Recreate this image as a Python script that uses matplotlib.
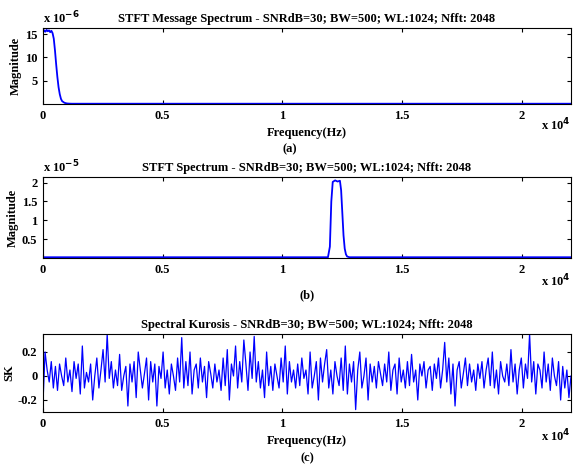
import matplotlib
matplotlib.use("Agg")
import matplotlib.pyplot as plt
import numpy as np

plt.rcParams['font.family'] = ['Liberation Serif', 'DejaVu Serif']
plt.rcParams['font.weight'] = 'bold'

msg_freq = [0, 50, 100, 150, 200, 250, 300, 350, 400, 450, 500, 550, 600, 650, 700, 750, 800, 900, 1000, 1100, 1200, 22050]
msg_mag = [15.3, 15.8, 15.5, 15.9, 15.6, 15.8, 15.4, 15.7, 15.2, 14.0, 11.5, 8.5, 5.8, 3.6, 2.1, 1.1, 0.6, 0.25, 0.12, 0.08, 0.06, 0.06]

sp_freq = [0, 11900, 11980, 12040, 12100, 12200, 12300, 12400, 12450, 12500, 12550, 12600, 12650, 12700, 12800, 22050]
sp_mag = [0.02, 0.02, 0.3, 1.5, 2.02, 2.06, 2.03, 2.05, 1.8, 1.2, 0.6, 0.25, 0.1, 0.04, 0.02, 0.02]

sk_vals = [
 -0.22, 0.2, 0.05, -0.05, 0.12, -0.1, 0.08, -0.12, 0.1, 0.0, -0.08, 0.15, -0.05, 0.05, -0.13, 0.12,
 -0.02, 0.1, -0.15, 0.25, -0.1, 0.03, -0.05, 0.1, -0.2, 0.0, 0.15, -0.1, 0.05, 0.22, -0.05, 0.35,
 -0.02, 0.12, -0.1, 0.05, -0.08, 0.18, -0.12, 0.0, 0.08, -0.25, 0.1, -0.05, 0.12, -0.18, 0.2, 0.05,
 -0.1, 0.02, 0.15, -0.2, 0.12, -0.05, 0.1, -0.25, 0.08, -0.02, 0.2, -0.1, 0.05, -0.15, 0.1, 0.0,
 -0.12, 0.15, -0.05, 0.32, -0.1, 0.12, -0.08, 0.2, -0.15, 0.05, 0.1, -0.1, 0.15, -0.05, 0.08, -0.18,
 0.12, 0.02, -0.1, 0.1, -0.05, 0.05, -0.12, 0.15, -0.08, 0.22, -0.2, 0.1, 0.0, 0.25, -0.1, 0.12,
 -0.05, 0.3, 0.1, -0.12, 0.2, -0.02, 0.33, -0.05, 0.12, -0.1, 0.05, -0.18, 0.2, -0.08, 0.08, -0.12,
 0.1, 0.0, -0.1, 0.15, -0.05, 0.25, -0.15, 0.12, -0.05, 0.05, -0.1, 0.1, -0.08, 0.15, -0.02, 0.05,
 -0.15, 0.2, -0.1, 0.0, 0.12, -0.2, 0.15, -0.05, 0.1, 0.22, -0.1, 0.05, -0.15, 0.12, 0.0, -0.08,
 0.15, -0.12, 0.25, -0.15, 0.1, -0.05, 0.12, -0.28, 0.05, 0.2, -0.1, 0.0, 0.15, -0.2, 0.1, -0.05,
 0.08, -0.1, 0.12, 0.02, -0.08, 0.1, -0.05, 0.2, -0.12, 0.05, 0.1, -0.15, 0.15, -0.05, 0.05, -0.1,
 0.12, -0.08, 0.18, -0.05, 0.05, -0.2, 0.1, 0.0, 0.12, -0.1, 0.05, 0.08, -0.12, 0.1, -0.02, 0.15,
 -0.1, 0.05, 0.28, -0.05, 0.15, -0.15, 0.1, -0.25, 0.05, 0.12, -0.1, 0.02, 0.15, -0.08, 0.1, -0.05,
 0.05, -0.12, 0.1, -0.02, 0.12, -0.1, 0.05, 0.15, -0.08, 0.2, -0.1, 0.05, -0.15, 0.12, 0.0, -0.05,
 0.1, -0.08, 0.22, -0.05, 0.1, -0.15, 0.05, 0.15, -0.1, 0.1, -0.02, 0.35, -0.05, 0.12, -0.15, 0.1,
 0.05, -0.1, 0.2, -0.05, 0.1, -0.12, 0.15, 0.0, -0.08, 0.12, -0.2, 0.08, -0.1, 0.05, -0.18, 0.0,
]
sk_freq = np.linspace(0, 22050, len(sk_vals))

W, H = 580, 468
fig = plt.figure(figsize=(W/100, H/100), dpi=100)
left, width = 43/W, 528/W
ax1 = fig.add_axes([left, 1-104/H, width, 76/H])
ax2 = fig.add_axes([left, 1-258/H, width, 81/H])
ax3 = fig.add_axes([left, 1-412/H, width, 78/H])

fs = 9
ax1.plot(msg_freq, np.array(msg_mag)*1e-6, color='blue', lw=1.3)
ax1.set_ylim(0, 16.3e-6)
ax1.set_yticks([5e-6, 10e-6, 15e-6])
ax1.set_yticklabels(['5', '10', '15'])
ax1.text(0, 1.02, r'x 10$^{-6}$', transform=ax1.transAxes, fontsize=fs, va='bottom')
ax1.set_title('STFT Message Spectrum - SNRdB=30; BW=500; WL:1024; Nfft: 2048', fontsize=fs, fontweight='bold', pad=4)
ax1.set_ylabel('Magnitude', fontsize=fs, fontweight='bold', labelpad=2)
ax1.set_xlabel('Frequency(Hz)', fontsize=fs, fontweight='bold', labelpad=4)

ax2.plot(sp_freq, np.array(sp_mag)*1e-5, color='blue', lw=1.3)
ax2.set_ylim(0, 2.15e-5)
ax2.set_yticks([0.5e-5, 1e-5, 1.5e-5, 2e-5])
ax2.set_yticklabels(['0.5', '1', '1.5', '2'])
ax2.text(0, 1.02, r'x 10$^{-5}$', transform=ax2.transAxes, fontsize=fs, va='bottom')
ax2.set_title('STFT Spectrum - SNRdB=30; BW=500; WL:1024; Nfft: 2048', fontsize=fs, fontweight='bold', pad=4)
ax2.set_ylabel('Magnitude', fontsize=fs, fontweight='bold', labelpad=2)
ax2.set_xlabel('(b)', fontsize=fs, fontweight='bold', labelpad=10)

ax3.plot(sk_freq, sk_vals, color='blue', lw=0.9)
ax3.set_ylim(-0.3, 0.35)
ax3.set_yticks([-0.2, 0, 0.2])
ax3.set_yticklabels(['-0.2', '0', '0.2'])
ax3.set_title('Spectral Kurosis - SNRdB=30; BW=500; WL:1024; Nfft: 2048', fontsize=fs, fontweight='bold', pad=4)
ax3.set_ylabel('SK', fontsize=fs, fontweight='bold', labelpad=2)
ax3.set_xlabel('Frequency(Hz)\n(c)', fontsize=fs, fontweight='bold', labelpad=4, linespacing=1.6)

for ax, off in ((ax1, -0.28), (ax2, -0.28), (ax3, -0.31)):
    ax.set_xlim(0, 22050)
    ax.set_xticks([0, 5000, 10000, 15000, 20000])
    ax.set_xticklabels(['0', '0.5', '1', '1.5', '2'])
    ax.tick_params(direction='in', top=True, right=True, labelsize=fs, length=3, pad=4)
    for lab in ax.get_xticklabels() + ax.get_yticklabels():
        lab.set_fontweight('bold')
    ax.text(1.0, off, r'x 10$^{4}$', transform=ax.transAxes, fontsize=fs, ha='right', va='center')

fig.text(0.5, 1-149/H, '(a)', fontsize=fs, ha='center', va='center', fontweight='bold')
fig.savefig('out.png', dpi=100)
